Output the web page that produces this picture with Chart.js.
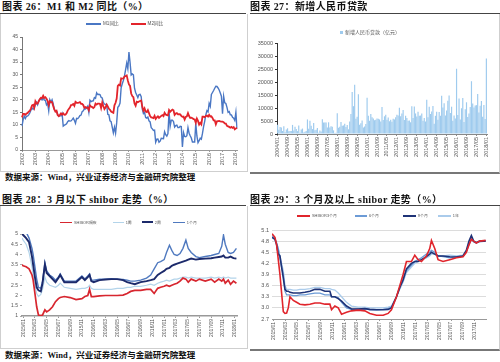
<!DOCTYPE html>
<html lang="zh-CN"><head><meta charset="utf-8">
<script src="https://cdn.jsdelivr.net/npm/chart.js@4.4.1/dist/chart.umd.min.js"></script>
<style>
html,body{margin:0;padding:0;background:#fff;}
body{width:500px;height:362px;position:relative;overflow:hidden;font-family:"Liberation Sans","Noto Sans CJK SC",sans-serif;}
.title{position:absolute;font-family:"Liberation Serif","Noto Sans CJK SC",serif;font-weight:bold;font-size:10px;color:#111;white-space:nowrap;line-height:1;letter-spacing:0.4px;}
.rule{position:absolute;height:1px;background:#444;}
.box{position:absolute;box-sizing:border-box;}
.src{position:absolute;font-family:"Liberation Serif","Noto Sans CJK SC",serif;font-weight:bold;font-size:8.5px;color:#111;white-space:nowrap;line-height:1;}
canvas{position:absolute;}
.leg{position:absolute;display:flex;align-items:center;color:#555;white-space:nowrap;line-height:1;}
.leg i{display:inline-block;margin-right:2px;}
</style></head>
<body>
<!-- Panel 26 -->
<div class="title" style="left:2px;top:2px">图表 26：M1 和 M2 同比（%）</div>
<div class="rule" style="left:0;top:13px;width:246px"></div>
<div class="box" style="left:0;top:14px;width:248px;height:158px;border:1px solid #cfcfcf;border-top:none"></div>
<canvas id="c26" width="244" height="156" style="left:2px;top:15px"></canvas>
<div class="leg" style="left:86px;top:21.5px;font-size:4.6px">
  <i style="width:15px;height:1.5px;background:#4a77c4"></i><span style="margin-right:12px">M1同比</span>
  <i style="width:15px;height:2px;background:#e3242b"></i><span>M2同比</span>
</div>
<div class="src" style="left:5px;top:173px">数据来源：Wind，兴业证券经济与金融研究院整理</div>

<!-- Panel 27 -->
<div class="title" style="left:250px;top:2px">图表 27：新增人民币贷款</div>
<div class="rule" style="left:250px;top:13px;width:250px"></div>
<div class="box" style="left:250px;top:14px;width:250px;height:160px;border-right:1px solid #cfcfcf;border-bottom:2px solid #777"></div>
<canvas id="c27" width="249" height="156" style="left:250px;top:15px"></canvas>
<div class="leg" style="left:340px;top:29.5px;font-size:5px">
  <i style="width:3px;height:3px;background:#9fcbee"></i><span>新增人民币贷款（亿元）</span>
</div>

<!-- Panel 28 -->
<div class="title" style="left:2px;top:195px">图表 28：3 月以下 shibor 走势（%）</div>
<div class="rule" style="left:0;top:205px;width:246px"></div>
<div class="box" style="left:0;top:206px;width:248px;height:143px;border:1px solid #cfcfcf;border-top:none"></div>
<canvas id="c28" width="244" height="140" style="left:2px;top:207px"></canvas>
<div class="leg" style="left:60px;top:220.5px;font-size:3.9px">
  <i style="width:12px;height:1.5px;background:#d7262f"></i><span style="margin-right:16px">SHIBOR隔夜</span>
  <i style="width:11px;height:1px;background:#b3d4ea"></i><span style="margin-right:10px">1周</span>
  <i style="width:11px;height:2px;background:#1c2a6b"></i><span style="margin-right:12px">2周</span>
  <i style="width:12px;height:1.5px;background:#4f79bf"></i><span>1个月</span>
</div>
<div class="src" style="left:5px;top:351px">数据来源：Wind，兴业证券经济与金融研究院整理</div>

<!-- Panel 29 -->
<div class="title" style="left:250px;top:195px">图表 29：3 个月及以上 shibor 走势（%）</div>
<div class="rule" style="left:250px;top:205px;width:250px"></div>
<div class="box" style="left:250px;top:206px;width:250px;height:145px;border-right:1px solid #cfcfcf;border-bottom:2px solid #777"></div>
<canvas id="c29" width="249" height="142" style="left:250px;top:207px"></canvas>
<div class="leg" style="left:297px;top:214px;font-size:3.9px">
  <i style="width:13px;height:1.5px;background:#e0252c"></i><span style="margin-right:18px">SHIBOR3个月</span>
  <i style="width:12px;height:1.5px;background:#6c9bd6"></i><span style="margin-right:24px">6个月</span>
  <i style="width:13px;height:2px;background:#1f3377"></i><span style="margin-right:10px">9个月</span>
  <i style="width:13px;height:1.5px;background:#aacbeb"></i><span>1年</span>
</div>

<script>
// ---------- Chart 26: M1 / M2 YoY (monthly, 2002/01 - 2018/02) ----------
const years26 = ["2002","2003","2004","2005","2006","2007","2008","2009","2010","2011","2012","2013","2014","2015","2016","2017","2018"];
const m1Yoy = [
 9.5,12.0,13.5,12.5,13.5,13.5,14.0,14.8,15.8,16.8,16.2,16.8,
 18.0,19.0,18.0,19.5,20.2,20.2,19.9,20.8,19.9,19.8,18.0,18.7,
 15.6,20.0,19.0,20.0,18.5,16.2,15.5,15.5,14.2,13.5,13.6,13.6,
 14.5,9.5,9.9,10.1,10.4,11.3,11.7,11.5,11.6,12.1,12.7,11.8,
 10.6,12.6,12.5,13.0,13.7,13.9,15.3,15.6,16.4,16.3,16.8,17.5,
 15.0,19.8,19.3,19.5,19.6,20.9,20.6,22.8,22.1,22.2,22.1,21.0,
 20.7,18.9,18.3,18.1,18.1,14.2,14.0,11.6,11.3,9.1,6.8,9.1,
 6.7,10.9,17.0,17.5,18.7,24.8,26.4,27.7,29.5,32.0,34.6,32.4,
 39.0,34.9,29.9,30.3,29.9,24.6,22.9,21.9,20.9,22.1,22.2,21.2,
 16.3,14.5,15.0,12.9,12.7,13.1,11.6,11.2,8.9,8.4,7.8,7.9,
 3.1,4.3,4.4,3.1,3.5,4.7,4.6,4.5,7.3,6.1,5.5,6.5,
 15.3,9.5,11.9,11.9,11.3,9.1,9.7,9.9,8.9,8.9,9.4,9.3,
 1.2,6.9,5.4,5.3,5.7,8.9,6.7,5.7,4.8,3.2,3.2,3.2,
 10.6,5.6,2.9,3.7,4.7,4.3,6.6,9.3,11.4,14.0,15.7,15.2,
 18.6,17.4,22.1,22.9,23.7,24.6,25.4,25.3,24.7,23.9,22.7,21.4,
 14.5,21.4,18.8,18.5,17.0,15.0,15.3,14.0,14.0,13.0,12.7,11.8,
 15.0,8.5];
const m2Yoy = [
 13.0,14.4,14.4,14.0,14.5,14.7,15.3,15.6,16.5,17.8,18.0,16.8,
 19.4,18.5,18.5,19.4,20.2,20.8,20.7,21.6,20.7,21.0,20.4,19.6,
 17.9,19.4,19.1,19.1,17.5,16.2,15.3,15.6,13.9,13.5,14.0,14.6,
 14.1,14.6,14.0,14.1,14.6,15.7,16.3,16.9,17.9,18.0,18.3,17.6,
 19.2,18.8,18.8,18.9,19.1,18.4,18.4,17.9,16.8,17.1,16.8,16.9,
 15.9,17.8,17.3,17.1,16.7,17.1,18.5,18.1,18.5,18.5,18.4,16.7,
 18.9,17.5,16.3,16.9,18.1,17.4,16.4,16.0,15.3,15.0,14.8,17.8,
 18.8,20.5,25.5,26.0,25.7,28.5,28.4,28.5,29.3,29.4,29.7,27.7,
 26.1,25.5,22.5,21.5,21.0,18.5,17.6,19.2,19.0,19.3,19.5,19.7,
 17.2,15.7,16.6,15.3,15.1,15.9,14.7,13.5,13.0,12.9,12.7,13.6,
 12.4,13.0,13.4,12.8,13.2,13.6,13.9,13.5,14.8,14.1,13.9,13.8,
 15.9,15.2,15.7,16.1,15.8,14.0,14.5,14.7,14.2,14.3,14.2,13.6,
 13.2,13.3,12.1,13.2,13.4,14.7,13.5,12.8,12.9,12.6,12.3,12.2,
 10.8,12.5,11.6,10.1,10.8,10.2,13.3,13.3,13.1,13.5,13.7,13.3,
 14.0,13.3,13.4,12.8,11.8,11.8,10.2,11.4,11.5,11.6,11.4,11.3,
 11.3,11.1,10.6,10.5,9.6,9.4,9.2,8.9,9.2,8.8,9.1,8.2,
 8.6,8.8];

// ---------- Chart 27: new RMB loans (100m yuan, monthly 2004/01 - 2018/01) ----------
const years27 = ["2004","2005","2006","2007","2008","2009","2010","2011","2012","2013","2014","2015","2016","2017","2018"];
const newLoans = [
 3600,1600,2700,2500,1200,3000,700,1700,2200,1100,1200,1200,
 3500,1300,2800,1900,1100,3300,500,1700,2100,600,900,1200,
 5600,2000,5100,3200,1900,4200,1400,1600,2300,500,1300,1000,
 5700,4400,4400,4400,2500,4500,2500,3000,2800,1400,400,500,
 8000,2400,2800,4600,3200,3300,3900,2700,3500,1800,4800,7700,
 16200,10700,18900,5900,6600,15300,3600,4100,5200,2500,2900,3800,
 13900,7000,5100,7700,6400,6000,5300,5500,6000,5900,5600,4800,
 10400,5400,6800,7400,5500,6300,4900,5500,4700,5900,5600,6400,
 7400,7100,10100,6800,7900,9200,5400,7000,6200,5100,5200,4500,
 10700,6200,10600,7900,6700,8600,7000,7100,7900,5100,6200,4800,
 13200,6400,10500,7700,8700,10800,3900,7000,8600,5500,8500,7000,
 14700,10200,11800,7100,9000,12800,14800,8100,10500,5100,7100,6000,
 25100,7300,13700,5600,9900,13800,4600,9500,12200,6500,7900,10400,
 20300,11700,10200,11000,11100,15400,8300,10900,12700,6600,11200,5800,
 29000];
const loanTickLabels = ["2004/01","2004/09","2005/05","2006/01","2006/09","2007/05","2008/01","2008/09","2009/05","2010/01","2010/09","2011/05","2012/01","2012/09","2013/05","2014/01","2014/09","2015/05","2016/01","2016/09","2017/05","2018/01"];

// ---------- Chart 28: Shibor below 3 months ----------
const x28 = [-0.2,0,0.5,1,1.5,1.7,2,2.3,2.6,3,3.3,3.7,4,4.5,5,5.5,6,6.3,7,8,9,10,10.5,11,11.3,11.6,12,13,14,15,16,17,17.7,18.3,19,20,21,21.7,22.3,22.9,23.4,24,24.4,24.9,25.3,25.7,26.2,26.7,27.2,27.7,28.1,28.6,29.4,30,31,32,32.6,33.3,33.8,34.1,34.4,34.9,35.3,35.8,36.3];
const shiborON = [3.5,3.45,3.4,3.3,3.0,2.75,2.1,1.45,1.05,1.02,
 1.05,1.3,1.2,1.3,1.45,1.7,1.85,1.9,1.95,1.9,
 1.8,1.85,1.95,2.0,2.3,1.95,1.95,1.98,2.0,2.0,
 2.0,2.02,2.1,2.2,2.25,2.25,2.3,2.3,2.1,2.35,
 2.4,2.45,2.5,2.45,2.5,2.55,2.6,2.7,2.85,2.8,
 2.65,2.8,2.7,2.8,2.7,2.8,2.65,2.8,2.7,2.8,
 2.6,2.75,2.55,2.7,2.6];
const shibor1W = [4.8,4.7,4.5,4.1,3.4,3.0,2.5,2.1,1.95,2.05,
 2.3,2.9,2.65,2.5,2.45,2.4,2.5,2.6,2.4,2.35,
 2.3,2.35,2.35,2.4,2.5,2.35,2.3,2.3,2.3,2.3,
 2.35,2.35,2.4,2.4,2.45,2.45,2.5,2.55,2.5,2.6,
 2.65,2.7,2.75,2.7,2.75,2.8,2.8,2.85,2.9,2.9,
 2.85,2.9,2.85,2.85,2.85,2.9,2.85,2.9,2.85,2.9,
 2.85,2.9,2.85,2.85,2.85];
const shibor2W = [5.0,4.95,4.8,4.6,3.9,3.5,2.9,2.4,2.25,2.2,
 2.6,3.5,3.1,2.95,2.8,2.65,2.85,3.0,2.65,2.65,
 2.65,2.9,2.75,2.9,3.0,2.7,2.65,2.75,2.78,2.8,
 2.8,2.75,2.65,2.6,2.55,2.65,2.7,2.75,2.8,3.0,
 3.1,3.2,3.3,3.35,3.45,3.5,3.55,3.6,3.65,3.7,
 3.75,3.8,3.75,3.78,3.8,3.82,3.85,3.88,3.9,3.95,
 3.85,3.85,3.9,3.82,3.8];
const shibor1M = [5.4,5.3,5.1,4.8,4.3,4.0,3.4,2.8,2.4,2.35,
 2.7,3.6,3.2,3.0,2.9,2.75,2.9,3.05,2.7,2.7,
 2.7,2.95,2.8,2.95,3.05,2.75,2.75,2.8,2.8,2.82,
 2.8,2.78,2.75,2.7,2.7,2.75,2.85,3.0,3.3,3.6,
 3.65,3.75,4.1,4.45,4.2,4.0,3.95,4.05,4.3,4.7,
 4.3,4.1,3.9,3.85,3.9,3.95,4.0,4.05,4.4,4.95,
 4.5,4.1,4.05,4.1,4.3];
const tickPos28 = [0,2,4,6,8,10,12,14,16,18,20,22,24,26,28,30,32,34,36];
const tickLab28 = ["2015/01","2015/03","2015/05","2015/07","2015/09","2015/11","2016/01","2016/03","2016/05","2016/07","2016/09","2016/11","2017/01","2017/03","2017/05","2017/07","2017/09","2017/11","2018/01"];
const yTicks28 = [1,1.5,2,2.5,3,3.5,4,4.5,5];

// ---------- Chart 29: Shibor 3 months and above ----------
const x29 = [-0.22,0.28,0.56,0.84,1.12,1.4,1.69,1.97,2.25,2.53,2.81,3.37,3.93,4.49,5.34,6.18,7.02,7.87,8.71,9.55,9.83,10.39,10.96,11.52,12.36,13.2,14.33,15.45,16.29,17.42,18.54,19.38,19.94,20.79,21.35,21.91,22.47,23.31,23.88,24.44,25.0,25.84,26.4,26.69,27.25,27.81,28.65,29.78,30.9,32.02,32.58,33.03,33.43,33.82,34.27,34.83,35.84];
const shibor3M = [5.0,4.9,4.7,4.3,3.9,3.4,2.9,2.85,2.86,3.0,
 3.3,3.2,3.15,3.1,3.08,3.1,3.13,3.13,3.1,3.1,
 2.95,3.05,3.0,2.83,2.88,2.92,2.94,2.92,2.85,2.8,
 2.8,2.85,2.95,3.3,3.6,3.9,4.25,4.25,4.42,4.3,
 4.25,4.4,4.6,4.82,4.6,4.3,4.25,4.3,4.35,4.38,
 4.5,4.7,4.85,4.8,4.75,4.8,4.82];
const shibor6M = [4.95,4.85,4.75,4.6,4.35,4.1,3.9,3.45,3.35,3.35,
 3.35,3.33,3.33,3.35,3.35,3.38,3.4,3.4,3.35,3.35,
 3.3,3.3,3.28,3.15,3.0,2.96,2.97,2.98,2.95,2.95,
 2.96,2.98,3.02,3.3,3.55,3.8,4.0,4.15,4.25,4.3,
 4.35,4.45,4.5,4.55,4.5,4.4,4.38,4.35,4.38,4.4,
 4.5,4.7,4.85,4.78,4.75,4.78,4.8];
const shibor9M = [4.9,4.85,4.7,4.45,4.4,4.1,3.8,3.5,3.45,3.45,
 3.42,3.4,3.4,3.4,3.42,3.45,3.5,3.5,3.45,3.45,
 3.3,3.3,3.25,3.18,3.05,2.97,2.97,2.98,2.96,2.95,
 2.95,2.96,3.0,3.3,3.55,3.75,4.05,4.2,4.25,4.25,
 4.3,4.38,4.45,4.5,4.45,4.4,4.4,4.38,4.37,4.4,
 4.55,4.8,4.95,4.8,4.76,4.8,4.8];
const shibor1Y = [4.9,4.85,4.75,4.6,4.4,4.2,4.0,3.6,3.5,3.5,
 3.5,3.48,3.48,3.5,3.5,3.52,3.55,3.55,3.52,3.52,
 3.5,3.48,3.4,3.3,3.15,3.05,3.02,3.02,3.0,3.0,
 3.0,3.02,3.05,3.3,3.5,3.7,3.95,4.1,4.2,4.25,
 4.3,4.35,4.4,4.45,4.45,4.4,4.4,4.42,4.4,4.42,
 4.55,4.72,4.88,4.8,4.78,4.8,4.82];
const tickPos29 = [0,2,4,6,8,10,12,14,16,18,20,22,24,26,28,30,32,34];
const tickLab29 = ["2015/01","2015/03","2015/05","2015/07","2015/09","2015/11","2016/01","2016/03","2016/05","2016/07","2016/09","2016/11","2017/01","2017/03","2017/05","2017/07","2017/09","2017/11"];
const yTicks29 = [2.7,3.0,3.3,3.6,3.9,4.2,4.5,4.8,5.1];

// ---------- categories ----------
const months26 = [];
years26.forEach(y => { ["01","02","03","04","05","06","07","08","09","10","11","12"].forEach(m => { if (months26.length < m1Yoy.length) months26.push(y + "/" + m); }); });
const months27 = [];
years27.forEach(y => { ["01","02","03","04","05","06","07","08","09","10","11","12"].forEach(m => { if (months27.length < newLoans.length) months27.push(y + "/" + m); }); });

Chart.defaults.font.family = '"Liberation Sans", Arial, sans-serif';
Chart.defaults.color = '#555';
const base = {responsive:false, animation:false, events:[], plugins:{legend:{display:false}, tooltip:{enabled:false}}};
const pts = (xs, ys) => xs.map((x, i) => ({x: x, y: ys[i]}));
const ln = (label, data, color, w) => ({label, data, borderColor:color, backgroundColor:color, borderWidth:w, pointRadius:0, tension:0, fill:false});

new Chart(document.getElementById('c26'), {
  type:'line',
  data:{labels:months26, datasets:[ ln('M2同比', m2Yoy, '#e3242b', 1.8), ln('M1同比', m1Yoy, '#4a77c4', 1.4) ]},
  options:{...base, layout:{padding:{top:22,right:9,left:0,bottom:0}},
    scales:{
      x:{type:'category', afterBuildTicks:s=>{ s.ticks = s.ticks.filter(t => months26[t.value].endsWith('/01')); },
         ticks:{autoSkip:false, maxRotation:90, minRotation:90, padding:1, font:{size:5.5}, callback:v=>months26[v].slice(0,4)},
         grid:{display:true, drawOnChartArea:false, tickLength:2, color:'#999'}, border:{color:'#999'}, afterFit:s=>{s.height=21;}},
      y:{min:0, max:45, ticks:{stepSize:5, padding:2, font:{size:5}},
         grid:{display:true, drawOnChartArea:false, tickLength:2, color:'#777'}, border:{color:'#777'}, afterFit:s=>{s.width=20;}}
    }}
});

new Chart(document.getElementById('c27'), {
  type:'bar',
  data:{labels:months27, datasets:[{label:'新增人民币贷款（亿元）', data:newLoans, backgroundColor:'#9fcbee', barPercentage:0.95, categoryPercentage:1}]},
  options:{...base, layout:{padding:{top:28,right:12,left:0,bottom:0}},
    scales:{
      x:{type:'category', afterBuildTicks:s=>{ s.ticks = s.ticks.filter(t => loanTickLabels.includes(months27[t.value])); },
         ticks:{autoSkip:false, maxRotation:90, minRotation:90, padding:1, font:{size:5.5}, callback:v=>months27[v]},
         grid:{display:true, offset:false, drawOnChartArea:false, tickLength:2, color:'#888'}, border:{color:'#888'}, afterFit:s=>{s.height=37;}},
      y:{min:0, max:35000, ticks:{stepSize:5000, padding:2, font:{size:5.5}, callback:v=>String(v)},
         grid:{display:true, drawOnChartArea:false, tickLength:2, color:'#333'}, border:{color:'#333'}, afterFit:s=>{s.width=27;}}
    }}
});

new Chart(document.getElementById('c28'), {
  type:'line',
  data:{datasets:[ ln('SHIBOR隔夜', pts(x28, shiborON), '#d7262f', 1.7), ln('2周', pts(x28, shibor2W), '#1c2a6b', 1.9),
                   ln('1个月', pts(x28, shibor1M), '#4f79bf', 1.4), ln('1周', pts(x28, shibor1W), '#b3d4ea', 1.2) ]},
  options:{...base, layout:{padding:{top:27,right:9,left:0,bottom:0}},
    scales:{
      x:{type:'linear', min:-0.2, max:36.4, afterBuildTicks:s=>{ s.ticks = tickPos28.map(v=>({value:v})); },
         ticks:{autoSkip:false, maxRotation:90, minRotation:90, padding:1, font:{size:5}, callback:v=>tickLab28[tickPos28.indexOf(v)]},
         grid:{display:true, drawOnChartArea:false, tickLength:2, color:'#999'}, border:{color:'#999', width:1.5}, afterFit:s=>{s.height=31;}},
      y:{min:1, max:5, afterBuildTicks:s=>{ s.ticks = yTicks28.map(v=>({value:v})); },
         ticks:{padding:2, font:{size:5}, callback:v=>String(v)},
         grid:{display:true, drawOnChartArea:false, tickLength:2, color:'#aaa'}, border:{display:false}, afterFit:s=>{s.width=20;}}
    }}
});

new Chart(document.getElementById('c29'), {
  type:'line',
  data:{datasets:[ ln('SHIBOR3个月', pts(x29, shibor3M), '#e0252c', 1.6), ln('9个月', pts(x29, shibor9M), '#1f3377', 1.6),
                   ln('6个月', pts(x29, shibor6M), '#6c9bd6', 1.3), ln('1年', pts(x29, shibor1Y), '#aacbeb', 1.3) ]},
  options:{...base, layout:{padding:{top:23,right:13,left:0,bottom:0}},
    scales:{
      x:{type:'linear', min:-0.22, max:35.9, afterBuildTicks:s=>{ s.ticks = tickPos29.map(v=>({value:v})); },
         ticks:{autoSkip:false, maxRotation:90, minRotation:90, padding:1, font:{size:5}, callback:v=>tickLab29[tickPos29.indexOf(v)]},
         grid:{display:true, drawOnChartArea:false, tickLength:2, color:'#999'}, border:{color:'#999'}, afterFit:s=>{s.height=30;}},
      y:{min:2.7, max:5.1, afterBuildTicks:s=>{ s.ticks = yTicks29.map(v=>({value:v})); },
         ticks:{padding:3, font:{size:5.5}, callback:v=>v.toFixed(1)},
         grid:{display:true, drawTicks:false, color:'#dcdcdc'}, border:{display:false}, afterFit:s=>{s.width=22;}}
    }}
});
</script>
</body></html>
